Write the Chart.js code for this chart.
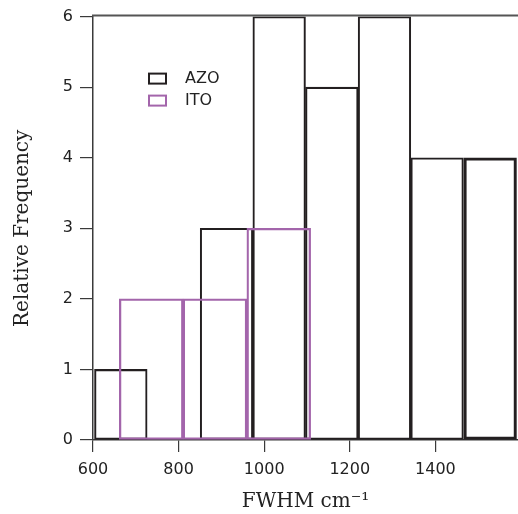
<!DOCTYPE html>
<html><head><meta charset="utf-8">
<script src="https://cdn.jsdelivr.net/npm/chart.js@4/dist/chart.umd.min.js"></script>
<style>html,body{margin:0;padding:0;background:#fff;overflow:hidden}#wrap{width:518px;height:514px}</style>
</head><body><div id="wrap"><canvas id="c" width="518" height="514"></canvas></div>
<script>
// ---- data ----
const azoBinCenters = [665, 788, 912, 1035, 1158, 1281, 1404, 1528];
const azoCounts     = [1, 0, 3, 6, 5, 6, 4, 4];
const azoBinWidth   = 123;
const itoBinCenters = [736, 885, 1034];
const itoCounts     = [2, 2, 3];
const itoBinWidth   = 149;
const xTicks = [600, 800, 1000, 1200, 1400];
const yTicks = [0, 1, 2, 3, 4, 5, 6];
const seriesLabels = ['AZO', 'ITO'];
const xTitle = 'FWHM cm\u207B\u00B9';
const yTitle = 'Relative Frequency';

const AZO_COLOR = '#231f20';
const ITO_COLOR = '#a365ab';
const AXIS_COLOR = '#3a3a3a';
const SANS = 'DejaVu Sans';
const SERIF = 'DejaVu Serif';

const topFrame = {
  id: 'topFrame',
  afterDatasetsDraw(chart) {
    const {ctx, chartArea} = chart;
    ctx.save();
    ctx.strokeStyle = '#555';
    ctx.lineWidth = 2;
    ctx.beginPath();
    ctx.moveTo(chartArea.left - 1, chartArea.top - 1);
    ctx.lineTo(chartArea.right, chartArea.top - 1);
    ctx.stroke();
    ctx.restore();
  }
};

const boxLegend = {
  id: 'boxLegend',
  afterDraw(chart) {
    const {ctx, chartArea} = chart;
    const x0 = chartArea.left + 56;
    const y0 = chartArea.top + 62;
    ctx.save();
    chart.data.datasets.forEach((ds, i) => {
      const y = y0 + i * 22;
      ctx.strokeStyle = ds.borderColor;
      ctx.lineWidth = 2;
      ctx.strokeRect(x0, y - 5, 17, 10);
      ctx.fillStyle = '#222';
      ctx.font = '16px "' + SANS + '"';
      ctx.textBaseline = 'middle';
      ctx.textAlign = 'left';
      ctx.fillText(ds.label, x0 + 36, y);
    });
    ctx.restore();
  }
};

const datasets = [
  {
    label: seriesLabels[0],
    data: azoBinCenters.map((x, i) => ({x: x, y: azoCounts[i]})),
    binWidth: azoBinWidth,
    borderColor: AZO_COLOR,
    backgroundColor: 'rgba(0,0,0,0)',
    borderWidth: azoCounts.map((v, i) => i === azoCounts.length - 1 ? 2.4 : 1.4),
    borderSkipped: false,
    grouped: false,
    order: 1
  },
  {
    label: seriesLabels[1],
    data: itoBinCenters.map((x, i) => ({x: x, y: itoCounts[i]})),
    binWidth: itoBinWidth,
    borderColor: ITO_COLOR,
    backgroundColor: 'rgba(0,0,0,0)',
    borderWidth: 1.6,
    borderSkipped: false,
    grouped: false,
    order: 0
  }
];

const chart = new Chart(document.getElementById('c'), {
  type: 'bar',
  data: {datasets: datasets},
  options: {
    responsive: false,
    animation: false,
    devicePixelRatio: 1,
    layout: {padding: {top: 16, right: 0, left: 0, bottom: 0}},
    plugins: {legend: {display: false}, tooltip: {enabled: false}},
    scales: {
      x: {
        type: 'linear',
        offset: false,
        min: 600,
        max: 1593,
        afterBuildTicks(s) { s.ticks = xTicks.map(v => ({value: v})); },
        afterFit(s) { s.height = 74; },
        grid: {offset: false, drawOnChartArea: false, drawTicks: true, tickLength: 12, color: AXIS_COLOR, lineWidth: 1.2},
        border: {display: true, color: AXIS_COLOR, width: 1.5},
        ticks: {font: {family: SANS, size: 16}, color: '#222', padding: 8, maxRotation: 0, autoSkip: false,
                callback: v => String(v)},
        title: {display: true, text: xTitle, font: {family: SERIF, size: 20}, color: '#222', padding: {top: 0, bottom: 0}}
      },
      y: {
        min: 0,
        max: 6,
        afterBuildTicks(s) { s.ticks = yTicks.map(v => ({value: v})); },
        afterFit(s) { s.width = 93; },
        grid: {drawOnChartArea: false, drawTicks: true, tickLength: 13, color: AXIS_COLOR, lineWidth: 1.2},
        border: {display: true, color: AXIS_COLOR, width: 1.5},
        ticks: {font: {family: SANS, size: 16}, color: '#222', padding: 7, callback: v => String(v)},
        title: {display: true, text: yTitle, font: {family: SERIF, size: 20}, color: '#222', padding: {top: 11, bottom: 0}}
      }
    }
  },
  plugins: [topFrame, boxLegend]
});

function fitBars(c) {
  const xs = c.scales.x;
  c.data.datasets.forEach(ds => {
    ds.barThickness = Math.abs(xs.getPixelForValue(xs.min + ds.binWidth) - xs.getPixelForValue(xs.min));
  });
  c.update();
}
fitBars(chart);
</script></body></html>
